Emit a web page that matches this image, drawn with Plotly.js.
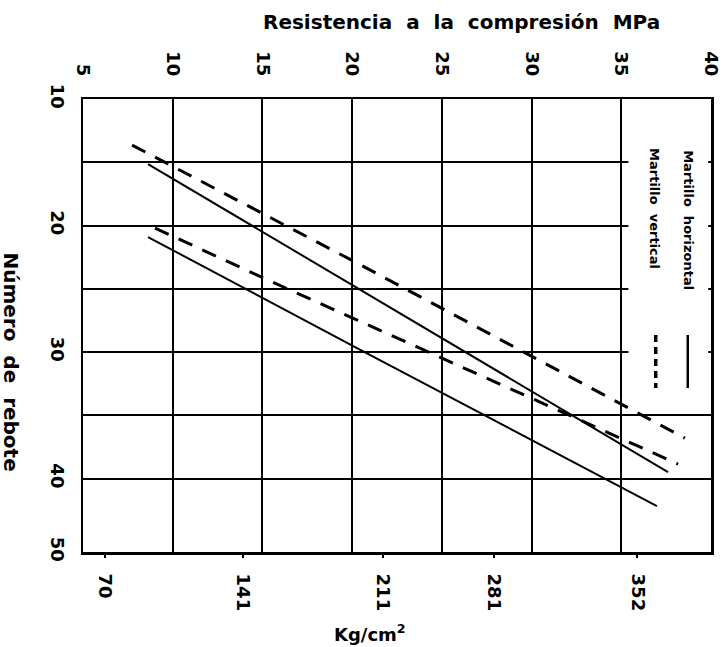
<!DOCTYPE html>
<html><head><meta charset="utf-8">
<script src="https://cdn.plot.ly/plotly-3.0.1.min.js"></script>
<style>html,body{margin:0;padding:0;background:#fff}</style>
</head><body><div id="chart" style="width:722px;height:647px"></div>
<script>
// Axis ticks
const mpaTicks = [5, 10, 15, 20, 25, 30, 35, 40];
const kgTickText = ['70', '141', '211', '281', '352'];
const kgTickPos = [6.2, 13.9, 21.7, 27.9, 35.9];   // positions on the MPa scale
const reboteTickVals = [10, 20, 30, 40, 45.8];
const reboteTickText = ['10', '20', '30', '40', '50'];
const reboteMinorGrid = [15, 25, 35];

// Series (x = resistencia MPa, y = número de rebote)
const hor1X = [8.62, 20.27, 37.61];
const hor1Y = [15.14, 24.94, 39.49];
const hor2X = [8.62, 20.27, 36.99];
const hor2Y = [20.91, 29.68, 42.17];
const ver1X = [7.73, 20.27, 38.55];
const ver1Y = [13.64, 22.96, 36.80];
const ver2X = [9.01, 15.31, 38.17];
const ver2Y = [20.20, 24.31, 38.85];

const legendNames = ['Martillo  horizontal', 'Martillo  vertical'];

const FONT = 'DejaVu Sans';
const solid = {color: '#000', width: 2};
const dashed = {color: '#000', width: 3, dash: '15px,11px'};
const tickFont = {family: FONT, size: 18, color: '#000', weight: 'bold'};

const data = [
  {x: hor1X, y: hor1Y, mode: 'lines', line: solid, hoverinfo: 'skip', showlegend: false},
  {x: hor2X, y: hor2Y, mode: 'lines', line: solid, hoverinfo: 'skip', showlegend: false},
  {x: ver1X, y: ver1Y, mode: 'lines', line: dashed, hoverinfo: 'skip', showlegend: false},
  {x: ver2X, y: ver2Y, mode: 'lines', line: dashed, hoverinfo: 'skip', showlegend: false},
  {x: hor2X, y: hor2Y, xaxis: 'x2', mode: 'lines', opacity: 0, hoverinfo: 'skip', showlegend: false}
];

const layout = {
  width: 722, height: 647,
  margin: {l: 83, r: 11, t: 99, b: 95},
  paper_bgcolor: '#fff', plot_bgcolor: '#fff',
  font: {family: FONT, color: '#000', size: 18},
  showlegend: false,
  xaxis: {
    side: 'top', range: [4.995, 40.005], tickvals: mpaTicks, ticktext: mpaTicks.map(String),
    tickangle: 90, ticks: '', ticklabelstandoff: 14, ticklabeloverflow: 'allow',
    showgrid: true, gridcolor: '#000', gridwidth: 2,
    showline: true, mirror: true, linecolor: '#000', linewidth: 2.5, zeroline: false,
    tickfont: tickFont
  },
  xaxis2: {
    overlaying: 'x', side: 'bottom', anchor: 'y', range: [4.995, 40.005],
    tickvals: kgTickPos, ticktext: kgTickText, tickangle: 90, ticklabeloverflow: 'allow',
    ticks: 'outside', ticklen: 5, tickwidth: 2, tickcolor: '#000', ticklabelstandoff: 12,
    showgrid: false, showline: false, zeroline: false,
    tickfont: tickFont
  },
  yaxis: {
    range: [45.8, 10], tickvals: reboteTickVals, ticktext: reboteTickText,
    tickangle: 90, ticks: '', ticklabelstandoff: 8, ticklabeloverflow: 'allow',
    showgrid: true, gridcolor: '#000', gridwidth: 2,
    minor: {tickvals: reboteMinorGrid, showgrid: true, gridcolor: '#000', gridwidth: 2, ticks: ''},
    showline: true, mirror: true, linecolor: '#000', linewidth: 2.5, zeroline: false,
    tickfont: tickFont
  },
  shapes: [
    // blank legend area (grid lines stop at the 35 MPa line)
    {type: 'rect', xref: 'x', yref: 'y', x0: 35.4, x1: 39.85, y0: 10.25, y1: 33,
     fillcolor: '#fff', line: {width: 0}, layer: 'between'},
    // legend samples
    {type: 'line', xref: 'paper', yref: 'paper', x0: 0.963, x1: 0.963, y0: 0.479, y1: 0.362,
     line: {color: '#000', width: 2.5}},
    {type: 'line', xref: 'paper', yref: 'paper', x0: 0.912, x1: 0.912, y0: 0.479, y1: 0.362,
     line: {color: '#000', width: 3.5, dash: '7px,5px'}}
  ],
  annotations: [
    {text: 'Resistencia  a  la  compresión  MPa', xref: 'paper', yref: 'paper', x: 0.603, y: 1.170,
     showarrow: false, xanchor: 'center', yanchor: 'middle',
     font: {family: FONT, size: 20, color: '#000', weight: 'bold'}},
    {text: 'Número  de  rebote', xref: 'paper', yref: 'paper', x: -0.115, y: 0.419,
     showarrow: false, textangle: 90, xanchor: 'center', yanchor: 'middle',
     font: {family: FONT, size: 20, color: '#000', weight: 'bold'}},
    {text: 'Kg/cm<sup>2</sup>', xref: 'paper', yref: 'paper', x: 0.457, y: -0.179,
     showarrow: false, xanchor: 'center', yanchor: 'middle',
     font: {family: FONT, size: 18, color: '#000', weight: 'bold'}},
    {text: legendNames[0], xref: 'paper', yref: 'paper', x: 0.963, y: 0.733,
     showarrow: false, textangle: 90, xanchor: 'center', yanchor: 'middle',
     font: {family: FONT, size: 13, color: '#000', weight: 'bold'}},
    {text: legendNames[1], xref: 'paper', yref: 'paper', x: 0.911, y: 0.759,
     showarrow: false, textangle: 90, xanchor: 'center', yanchor: 'middle',
     font: {family: FONT, size: 13, color: '#000', weight: 'bold'}}
  ]
};

Plotly.newPlot('chart', data, layout, {staticPlot: true, displayModeBar: false});
</script>
</body></html>
